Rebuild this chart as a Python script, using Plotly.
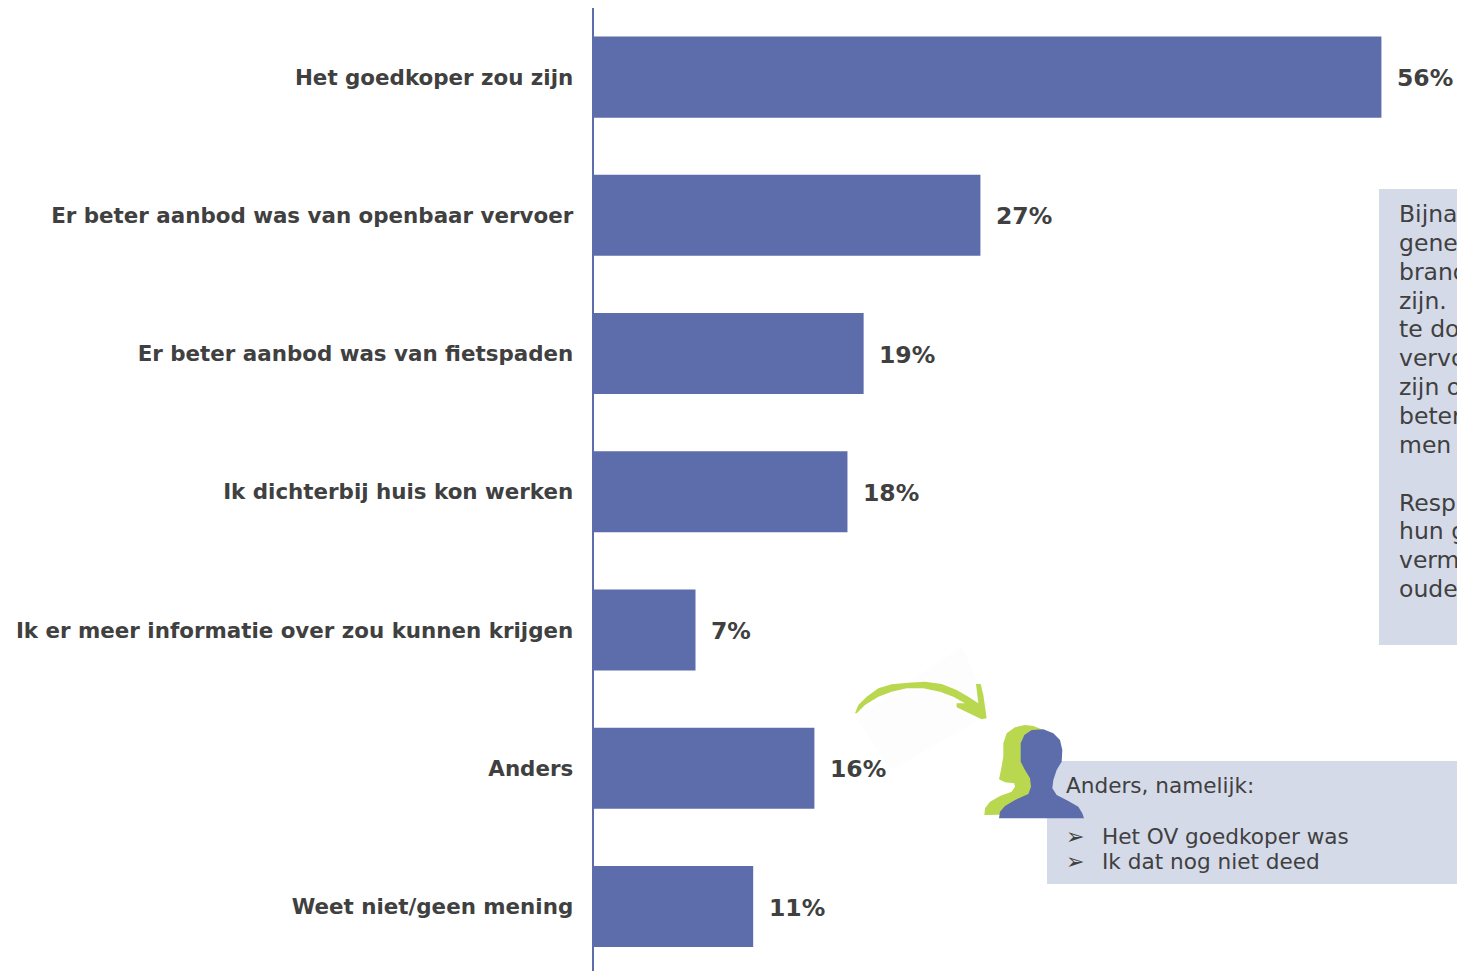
import plotly.graph_objects as go

W, H = 1457, 971
categories = ["Het goedkoper zou zijn", "Er beter aanbod was van openbaar vervoer",
              "Er beter aanbod was van fietspaden", "Ik dichterbij huis kon werken",
              "Ik er meer informatie over zou kunnen krijgen", "Anders", "Weet niet/geen mening"]
values = [56.0, 27.5, 19.2, 18.05, 7.25, 15.7, 11.35]
labels = ["56%", "27%", "19%", "18%", "7%", "16%", "11%"]
side_lines = ["Bijna", "gene", "brand", "zijn.", "te do", "vervo", "zijn o", "beter", "men", "",
              "Resp", "hun g", "verm", "oude"]
other_title = "Anders, namelijk:"
other_items = ["Het OV goedkoper was", "Ik dat nog niet deed"]

BAR = "#5d6dac"
TXT = "#404040"
BOX = "#d5dae9"
GREEN = "#b9d84f"
FONT = "DejaVu Sans"
LEFT = 593.5


def px(x, y):
    return x / W, 1 - y / H


def path(points, ox, oy, sx, sy):
    out = []
    for i, (x, y) in enumerate(points):
        a, b = px(ox + x / sx, oy + y / sy)
        out.append(("M" if i == 0 else "L") + f"{a:.5f},{b:.5f}")
    return " ".join(out) + " Z"


def rect(x0, y0, x1, y1):
    a0, b0 = px(x0, y0)
    a1, b1 = px(x1, y1)
    return dict(type="rect", xref="paper", yref="paper", x0=a0, y0=b0, x1=a1, y1=b1,
                fillcolor=BOX, line_width=0, layer="below")


def shape(points, color, ox, oy, sx=3, sy=3):
    return dict(type="path", xref="paper", yref="paper", path=path(points, ox, oy, sx, sy),
                fillcolor=color, line_width=0)


def note(x, y, text, size=21.6):
    a, b = px(x, y)
    return dict(xref="paper", yref="paper", x=a, y=b, text=text, showarrow=False,
                xanchor="left", yanchor="middle", align="left",
                font=dict(family=FONT, size=size, color=TXT))


fig = go.Figure(go.Bar(x=values, y=categories, orientation="h", marker=dict(color=BAR, line_width=0),
                       hoverinfo="skip"))

annotations = [dict(x=v, y=c, text=f"<b>{t}</b>", xref="x", yref="y", showarrow=False,
                    xanchor="left", yanchor="middle", xshift=13.5, yshift=-1,
                    font=dict(family=FONT, size=23.5, color=TXT))
               for v, c, t in zip(values, categories, labels)]
for i, line in enumerate(side_lines):
    if line:
        annotations.append(note(1396.7, 214 + i * 28.85, line, 23.5))
annotations.append(note(1064, 785, other_title))
for i, item in enumerate(other_items):
    annotations.append(note(1064, 836 + i * 25, "➢", 22))
    annotations.append(note(1100, 836.5 + i * 25, item))

shapes = [
    rect(1379, 189, 1457, 645),
    rect(1047, 761, 1457, 884),
    shape([(310, 20), (385, 215), (130, 385), (40, 230)], "#fdfdfd", 840, 640, 2.54, 2.96),
    shape([(15, 130), (25, 105), (50, 80), (85, 55), (125, 43), (175, 38), (225, 35), (275, 42), (320, 60),
           (355, 80), (385, 100), (378, 42), (392, 42), (400, 75), (410, 145), (395, 148), (320, 112),
           (320, 100), (345, 100), (310, 80), (270, 65), (220, 55), (170, 55), (125, 65), (85, 80),
           (45, 105), (20, 130)], GREEN, 850, 670),
    shape([(28, 285), (30, 265), (45, 245), (75, 228), (110, 215), (120, 200), (118, 190), (90, 187),
           (72, 178), (78, 150), (85, 110), (85, 70), (95, 40), (120, 22), (150, 15), (175, 18), (200, 28),
           (200, 200), (140, 283)], GREEN, 975, 720),
    shape([(72, 295), (75, 275), (90, 258), (120, 240), (160, 222), (168, 200), (165, 175), (150, 150),
           (137, 125), (137, 70), (148, 45), (170, 30), (205, 28), (235, 40), (255, 60), (262, 90),
           (260, 125), (245, 150), (235, 180), (232, 205), (245, 225), (280, 243), (310, 260), (322, 280),
           (327, 295)], BAR, 975, 720),
]

fig.update_layout(
    width=W, height=H, autosize=False, margin=dict(l=0, r=0, t=0, b=0, pad=0),
    paper_bgcolor="white", plot_bgcolor="white", showlegend=False, bargap=0.414,
    annotations=annotations, shapes=shapes,
    xaxis=dict(domain=[LEFT / W, 1], range=[0, (W - LEFT) / 14.07], visible=False, automargin=False),
    yaxis=dict(domain=[0, 1 - 8 / H], range=[6.466, -0.5], type="category", categoryorder="array",
               categoryarray=categories, showline=True, linecolor=BAR, linewidth=2, ticks="",
               ticklabelstandoff=14, showgrid=False, zeroline=False, automargin=False,
               tickfont=dict(family=FONT, size=21.4, color=TXT),
               tickmode="array", tickvals=categories, ticktext=[f"<b>{c}</b>" for c in categories]),
)
fig.write_html("out.html", config={"displayModeBar": False},
               post_script="document.body.style.margin='0';document.body.style.overflow='hidden';")
